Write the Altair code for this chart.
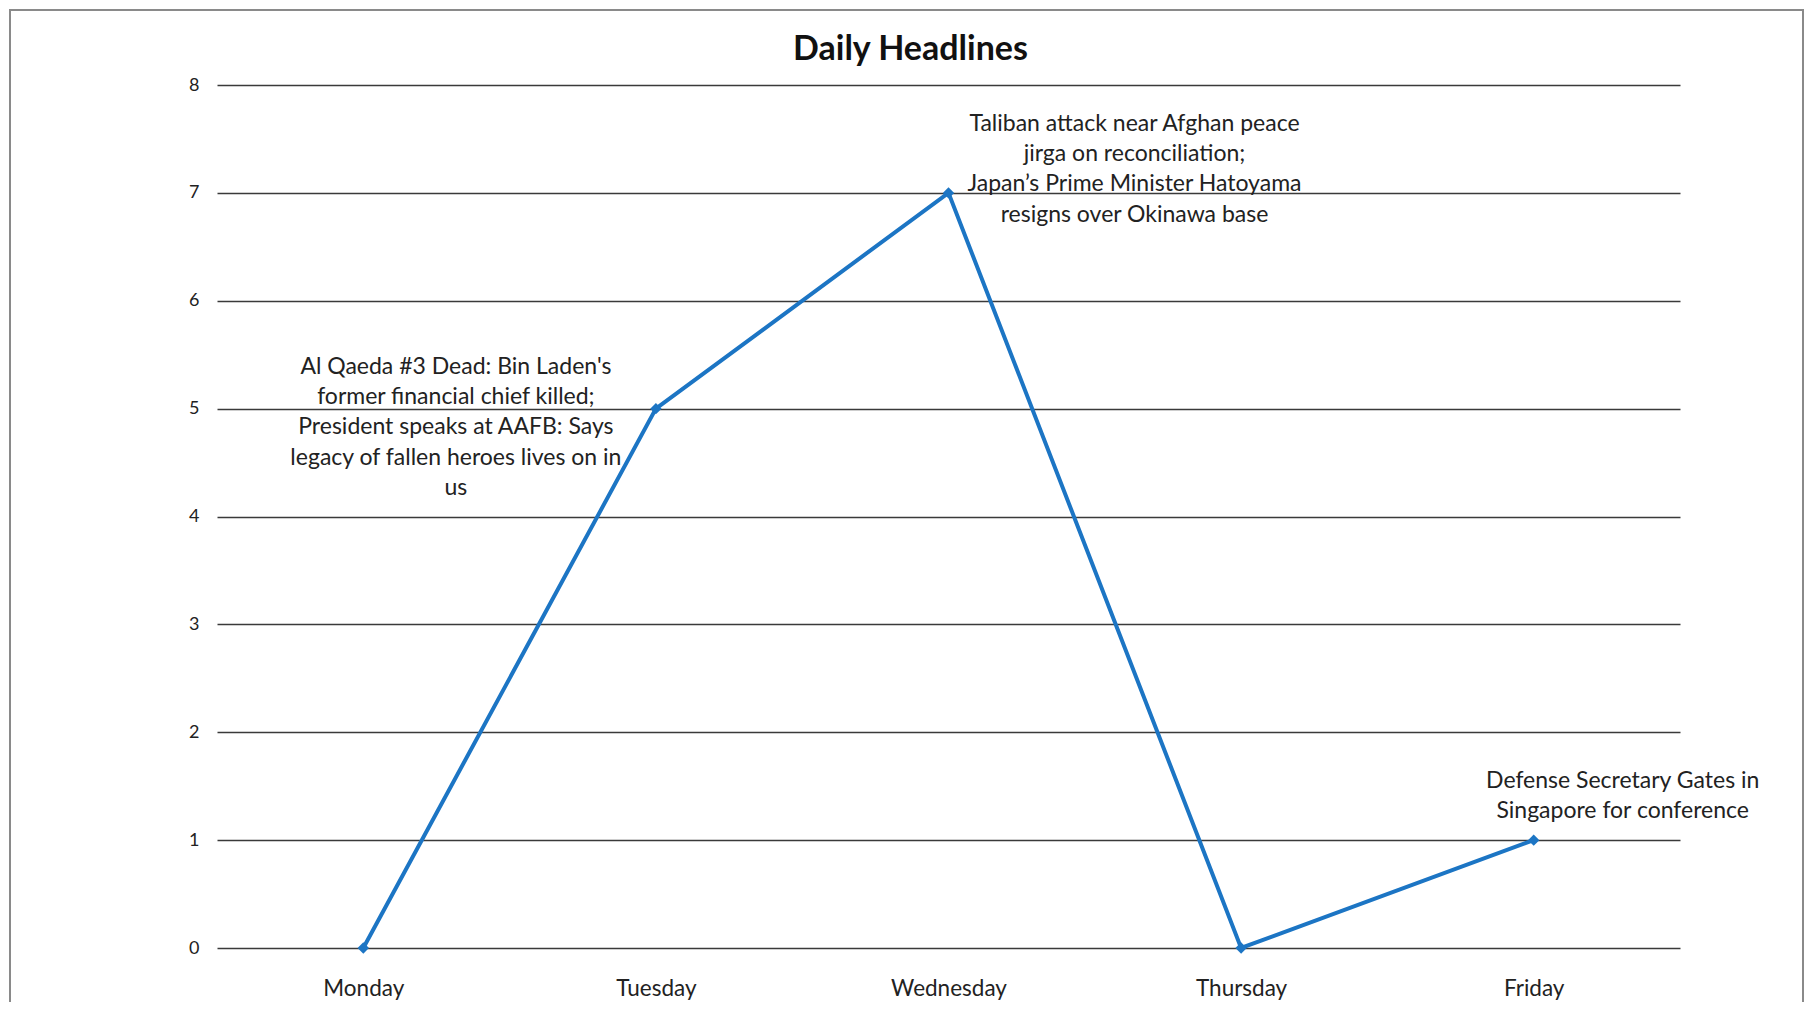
import altair as alt
import pandas as pd

days = ["Monday", "Tuesday", "Wednesday", "Thursday", "Friday"]
counts = [0, 5, 7, 0, 1]

ann_days = ["Tuesday", "Wednesday", "Friday"]
ann_values = [5, 7, 1]
ann_texts = [
    ["Al Qaeda #3 Dead: Bin Laden's", "former financial chief killed;",
     "President speaks at AAFB: Says", "legacy of fallen heroes lives on in", "us"],
    ["Taliban attack near Afghan peace", "jirga on reconciliation;",
     "Japan\u2019s Prime Minister Hatoyama", "resigns over Okinawa base"],
    ["Defense Secretary Gates in", "Singapore for conference"],
]
ann_dx = [-200, 186, 89]
ann_dy = [-53, -80, -70]

FONT = "Lato"
BLUE = "#1C75C4"

df = pd.DataFrame({"day": days, "count": counts})

x_enc = alt.X("day:N", sort=days, title=None,
              scale=alt.Scale(type="point", padding=0.5),
              axis=alt.Axis(labelAngle=0, labelFontSize=22.5, labelFont=FONT,
                            labelColor="#222", labelPadding=29, ticks=False,
                            domain=False, grid=False))
y_enc = alt.Y("count:Q", title=None,
              scale=alt.Scale(domain=[0, 8], nice=False),
              axis=alt.Axis(values=list(range(0, 9)), format="d",
                            labelFontSize=18, labelFont=FONT, labelColor="#222",
                            labelPadding=18, ticks=False, domain=False,
                            grid=True, gridColor="#3a3a3a", gridWidth=1.4))

base = alt.Chart(df)
line = base.mark_line(color=BLUE, strokeWidth=4).encode(x=x_enc, y=y_enc)
pts = base.mark_point(shape="diamond", filled=True, color=BLUE, size=130, opacity=1).encode(
    x=alt.X("day:N", sort=days), y="count:Q")

layers = [line, pts]
for d, v, t, dx, dy in zip(ann_days, ann_values, ann_texts, ann_dx, ann_dy):
    adf = pd.DataFrame({"day": [d], "count": [v], "label": [t]})
    layers.append(
        alt.Chart(adf).mark_text(fontSize=23, font=FONT, color="#222",
                                 align="center", baseline="top",
                                 lineHeight=30.3, dx=dx, dy=dy).encode(
            x=alt.X("day:N", sort=days), y="count:Q", text="label")
    )

frame = alt.Chart(pd.DataFrame({"f": [0]})).mark_rect(
    fill=None, stroke="#8a8a8a", strokeWidth=2).encode(
    x=alt.value(-207), x2=alt.value(1586), y=alt.value(-75), y2=alt.value(1000))
layers.append(frame)

chart = alt.layer(*layers).properties(
    width=1463, height=863,
    title=alt.TitleParams("Daily Headlines", fontSize=34, fontWeight="bold",
                          font=FONT, color="#111", anchor="middle", dx=-38,
                          offset=-58),
    autosize=alt.AutoSizeParams(type="none"),
    padding={"left": 209, "top": 77, "right": 128, "bottom": 54},
    view=alt.ViewBackground(stroke="transparent", strokeWidth=0),
).configure_view(stroke="transparent", strokeWidth=0).configure(background="white")

chart.save("out.html", embed_options={"renderer": "svg", "actions": False})
